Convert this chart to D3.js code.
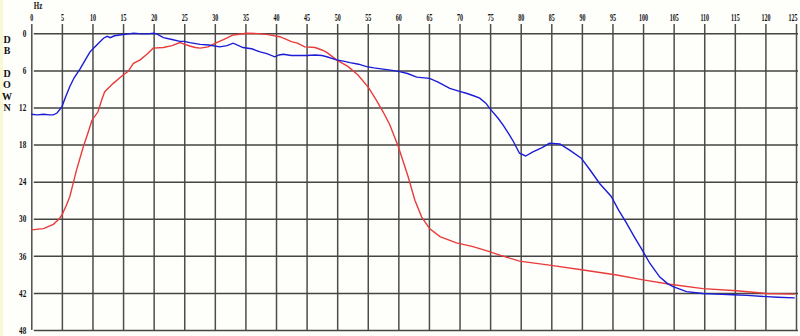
<!DOCTYPE html>
<html>
<head>
<meta charset="utf-8">
<script src="https://cdn.jsdelivr.net/npm/d3@7"></script>
<style>
  html, body { margin: 0; padding: 0; background: #fefefb; }
  svg { display: block; }
  .lbl { font-family: "Liberation Serif", "Times New Roman", serif; font-weight: bold; font-size: 10px; fill: #111; }
</style>
</head>
<body>
<svg id="chart" width="800" height="336"></svg>
<script>
// Frequency response: attenuation (dB down) versus frequency (Hz)
const xTicks = [0, 5, 10, 15, 20, 25, 30, 35, 40, 45, 50, 55, 60, 65, 70, 75, 80, 85, 90, 95, 100, 105, 110, 115, 120, 125];
const yTicks = [0, 6, 12, 18, 24, 30, 36, 42, 48];
const yLabelLetters = ["D", "B", "", "D", "O", "W", "N"];

// Blue trace
const blueHz = [0, 1, 2, 3, 3.6, 4.2, 5, 5.6, 6.3, 7, 8, 9, 9.6, 10.7, 11.8, 12.4, 12.9, 13.6, 15, 16, 16.7, 18, 19, 20, 20.5, 21.6, 23, 24.3, 25, 25.9, 27.6, 29, 30.8, 32, 33, 34.6, 36, 37.4, 38.5, 39.8, 40.5, 41.2, 42.5, 43.9, 45, 46.4, 47.5, 48.3, 49.9, 51, 52.1, 53.5, 54.8, 56, 57.5, 59, 60.2, 61.5, 63, 65.1, 66.5, 68.4, 70, 71.1, 72.3, 73.3, 74.3, 74.9, 76.3, 77.1, 78, 78.8, 79.8, 80.8, 82, 83.5, 84.7, 86.4, 88, 89.9, 91.4, 92.9, 94.8, 96, 97.3, 98.5, 99.7, 101.1, 102.7, 104, 104.9, 107.1, 109.8, 112, 114.7, 117, 120.2, 122, 124.8];
const blueDb = [13.1, 13.2, 13.1, 13.2, 13.2, 12.9, 11.9, 10.3, 8.6, 7.2, 5.7, 4.0, 3.0, 1.9, 0.8, 0.5, 0.7, 0.4, 0.2, 0.1, 0, 0.1, 0.1, 0, 0.1, 0.7, 1.0, 1.3, 1.3, 1.5, 1.8, 1.9, 2.2, 2.0, 1.6, 2.3, 2.5, 3.0, 3.3, 3.8, 3.5, 3.4, 3.6, 3.6, 3.6, 3.5, 3.6, 3.8, 4.3, 4.5, 4.75, 5.0, 5.4, 5.6, 5.8, 6.0, 6.2, 6.5, 7.1, 7.3, 7.9, 8.9, 9.4, 9.7, 10.1, 10.5, 11.3, 12.1, 13.75, 14.8, 16.2, 17.5, 19.4, 19.85, 19.2, 18.5, 17.8, 17.9, 18.9, 20.2, 22.2, 24.3, 26.4, 28.6, 30.7, 32.8, 34.8, 37.2, 39.4, 40.5, 41.0, 41.8, 42.1, 42.2, 42.3, 42.4, 42.6, 42.7, 42.8];

// Red trace
const redHz = [0, 2, 3.6, 4.5, 5, 5.7, 6.3, 7.4, 8.5, 9.3, 9.9, 10.9, 11.5, 12.0, 13.4, 15, 15.8, 16.7, 17.8, 19, 19.9, 21.6, 23, 24.3, 25.1, 25.9, 26.8, 27.6, 28.9, 30.3, 31.5, 33, 35.2, 37, 38.5, 40.6, 41.5, 42.5, 43.5, 44.7, 46.4, 47.5, 48.3, 49.9, 51.8, 53.4, 55.1, 56.4, 57.5, 58.6, 60, 61.6, 62.7, 63.8, 65.1, 66.8, 69.5, 72.2, 74.5, 76.6, 79.8, 84.7, 90.2, 95.7, 100, 104.4, 109.8, 115.3, 120.2, 124.8];
const redDb = [31.8, 31.6, 30.9, 30.1, 29.4, 27.9, 26.4, 22.1, 18.35, 16, 14.1, 12.7, 10.8, 9.45, 8.1, 6.75, 6.2, 4.85, 4.3, 3.3, 2.4, 2.3, 2.0, 1.5, 1.8, 2.05, 2.3, 2.4, 2.2, 1.5, 1.0, 0.27, 0, 0.05, 0.17, 0.55, 0.9, 1.35, 1.6, 2.2, 2.3, 2.7, 3.1, 4.3, 5.4, 6.75, 8.75, 10.8, 12.7, 14.8, 18.35, 23.2, 27.0, 29.7, 31.6, 32.9, 33.9, 34.5, 35.2, 35.9, 36.85, 37.5, 38.3, 39.1, 39.9, 40.6, 41.3, 41.65, 42.1, 42.2];

const svg = d3.select("#chart");
const W = 800, H = 336;

// faint tinted strip at the left edge
svg.append("rect").attr("x", 0).attr("y", 0).attr("width", 3).attr("height", H).attr("fill", "#f8f8d4");

const x = d3.scaleLinear().domain([0, 125]).range([31.3, 796]);
const y = d3.scaleLinear().domain([0, 48]).range([33.3, 330]);
const gridTop = 24, gridRight = 798;
const fmt = d3.format("d");

// horizontally squeezed numerals (condensed look)
function condense(sel, s) {
  sel.each(function () {
    const t = d3.select(this);
    const x0 = +t.attr("x") || 0;
    t.attr("x", x0 / s).attr("transform", `scale(${s},1)`);
  });
}

// vertical grid + Hz labels
const gx = svg.append("g")
  .attr("transform", `translate(0,${gridTop})`)
  .call(d3.axisTop(x).tickValues(xTicks).tickSize(-(y(48) - gridTop)).tickPadding(3).tickFormat(fmt));
gx.select(".domain").remove();
gx.selectAll(".tick line").attr("stroke", "#4d4d4d").attr("stroke-width", 1.5);
// last label sits flush against the right edge
gx.selectAll(".tick text").filter(d => d === xTicks[xTicks.length - 1])
  .attr("text-anchor", "end").attr("x", 1);
gx.selectAll(".tick text").attr("class", "lbl").attr("fill", "#111").call(condense, 0.6);
gx.attr("font-family", null).attr("font-size", null);

// horizontal grid + dB labels
const gy = svg.append("g")
  .attr("transform", `translate(${x(0)},0)`)
  .call(d3.axisLeft(y).tickValues(yTicks).tickSize(-(gridRight - x(0))).tickPadding(5).tickFormat(fmt));
gy.select(".domain").remove();
gy.selectAll(".tick line").attr("stroke", "#454545").attr("stroke-width", 1.5).attr("x1", 2.5);
gy.selectAll(".tick text").attr("class", "lbl").attr("fill", "#111").call(condense, 0.72);
gy.attr("font-family", null).attr("font-size", null);

// unit label
svg.append("text").attr("class", "lbl").attr("x", 38 / 0.7).attr("y", 9).attr("text-anchor", "middle")
  .attr("transform", "scale(0.7,1)").text("Hz");

// stacked axis title letters
svg.append("g").selectAll("text").data(yLabelLetters).join("text")
  .attr("class", "lbl")
  .attr("x", 7)
  .attr("y", (d, i) => 43 + i * 11.3)
  .attr("text-anchor", "middle")
  .text(d => d);

const line = d3.line().x(d => x(d[0])).y(d => y(d[1]));

svg.append("path")
  .datum(redHz.map((h, i) => [h, redDb[i]]))
  .attr("fill", "none").attr("stroke", "#e83c3c").attr("stroke-width", 1.4)
  .attr("d", line);

svg.append("path")
  .datum(blueHz.map((h, i) => [h, blueDb[i]]))
  .attr("fill", "none").attr("stroke", "#1c1cd8").attr("stroke-width", 1.4)
  .attr("d", line);
</script>
</body>
</html>
